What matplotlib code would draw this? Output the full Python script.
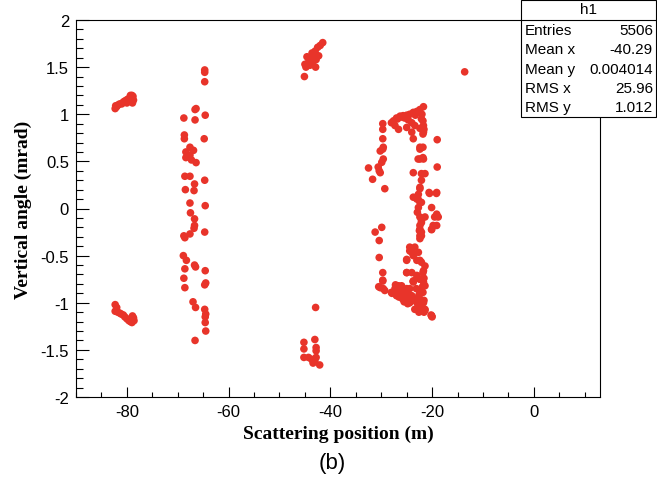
import matplotlib
matplotlib.use("Agg")
import matplotlib.pyplot as plt
from matplotlib.ticker import MultipleLocator, FuncFormatter
from matplotlib.patches import Rectangle
from matplotlib.lines import Line2D

plt.rcParams['font.family'] = ['Liberation Sans', 'DejaVu Sans']
plt.rcParams['axes.unicode_minus'] = False

# cluster near -80 m, positive angle
a_x = [-82.3, -82.2, -82.0, -81.7, -81.4, -81.0, -80.7, -80.4, -80.1,
       -79.8, -79.5, -79.2, -79.0, -78.8, -78.7, -79.3, -80.0, -78.9]
a_y = [1.06, 1.09, 1.08, 1.10, 1.11, 1.11, 1.13, 1.14, 1.15,
       1.16, 1.17, 1.18, 1.20, 1.19, 1.15, 1.20, 1.12, 1.12]

# cluster near -80 m, negative angle
b_x = [-82.3, -82.3, -82.0, -81.8, -81.4, -81.1, -80.7, -80.4,
       -80.0, -79.6, -79.3, -78.9, -78.6, -78.7, -79.0]
b_y = [-1.02, -1.09, -1.05, -1.10, -1.11, -1.12, -1.13, -1.15,
       -1.17, -1.19, -1.20, -1.14, -1.19, -1.16, -1.21]

# column around -67 m
c_x = [-64.7, -64.7, -64.7, -66.6, -66.4, -68.8, -66.6, -64.6,
       -68.7, -68.7, -64.8, -67.6, -66.9, -68.4, -67.6, -68.4,
       -67.3, -66.4, -68.6, -67.6, -64.7, -66.7, -68.5, -66.8,
       -67.6, -64.6, -67.5, -66.7, -66.7, -66.8, -64.7, -68.8,
       -67.6, -68.6, -68.9, -68.3, -68.6, -66.7, -66.5, -64.6,
       -68.8, -68.6, -64.7, -64.5, -67.0, -66.5, -64.7, -64.5,
       -64.6, -64.6, -64.5, -66.6]
c_y = [1.47, 1.445, 1.345, 1.05, 1.06, 0.96, 0.94, 0.99,
       0.78, 0.74, 0.74, 0.65, 0.617, 0.60, 0.566, 0.54,
       0.515, 0.487, 0.342, 0.342, 0.30, 0.26, 0.20, 0.19,
       0.058, 0.03, -0.046, -0.11, -0.18, -0.21, -0.25, -0.29,
       -0.27, -0.31, -0.50, -0.55, -0.64, -0.60, -0.62, -0.66,
       -0.74, -0.84, -0.81, -0.79, -0.99, -1.05, -1.07, -1.12,
       -1.15, -1.21, -1.30, -1.40]

# cluster near -43 m, positive angle
d_x = [-45.1, -45.0, -44.8, -44.6, -44.2, -43.8, -43.5, -43.2, -43.0,
       -42.8, -42.5, -42.3, -41.5, -42.0, -43.6, -44.0, -42.9]
d_y = [1.40, 1.53, 1.50, 1.61, 1.57, 1.60, 1.55, 1.63, 1.67,
       1.58, 1.71, 1.62, 1.76, 1.73, 1.65, 1.52, 1.50]

# cluster near -43 m, negative angle
e_x = [-42.9, -45.2, -45.2, -45.2, -44.3, -43.05, -42.8,
       -42.8, -43.7, -43.4, -42.8, -43.05, -42.1]
e_y = [-1.05, -1.42, -1.49, -1.58, -1.58, -1.39, -1.475,
       -1.51, -1.60, -1.64, -1.58, -1.62, -1.66]

# single point
f_x = [-13.6]
f_y = [1.45]

# big cluster between -33 and -19 m
g_x = [-21.7, -22.4, -23.0, -23.7, -24.4, -25.0, -25.7, -26.3, -27.0, -27.6,
       -28.0, -27.3, -26.6, -26.0, -22.1, -21.7, -22.4, -23.4, -24.0, -25.0,
       -21.7, -26.8, -25.4, -24.7, -23.3, -22.0,
       -29.7, -29.7, -29.7, -29.7, -30.2, -29.6, -29.9, -30.6, -30.2, -32.5,
       -31.7, -29.3, -30.4, -29.6,
       -24.0, -23.7, -22.4, -22.4, -21.7, -23.7, -22.1, -22.1, -22.4, -22.7,
       -23.7, -23.0, -22.4, -22.7, -22.9, -22.4, -22.1, -22.4, -22.5, -22.4,
       -22.1, -20.6, -19.1, -20.1, -19.1, -18.8, -19.1, -20.1, -19.0, -19.0,
       -31.2, -29.9, -30.4, -30.4, -29.7, -29.7, -30.2, -29.6,
       -24.4, -24.0, -25.0, -22.7, -23.0, -22.1, -21.7, -24.0, -25.0, -23.0,
       -22.4, -23.7, -21.7, -28.0, -27.3, -26.6, -26.3, -27.0, -25.7, -25.3,
       -24.4, -23.4, -22.4, -22.1, -21.4, -20.1, -21.7, -23.4, -25.0, -24.4,
       -24.0, -22.4, -26.0, -24.8, -23.9, -22.8,
       -21.8, -21.6, -21.8, -21.8, -22.4, -21.8, -22.75, -21.4, -22.4, -22.75,
       -22.1, -20.5, -19.15, -19.5, -19.8, -20.1, -21.4, -22.1, -22.4, -22.1,
       -22.4, -23.4, -24.4, -23.7, -25.0, -22.4, -21.4, -21.8, -25.0, -23.7,
       -22.4, -21.4, -23.1, -25.0, -21.8, -24.4, -23.4, -22.4, -21.4, -20.1,
       -25.0, -25.7, -26.0,
       -30.5, -29.3, -29.7, -27.2, -26.9, -26.2, -25.8, -24.8, -24.1, -23.0,
       -22.6, -21.9, -21.6, -21.9, -21.6, -20.2, -20.0, -23.7, -23.0, -21.6,
       -27.9, -26.5, -25.5, -22.3, -22.6]
g_y = [1.08, 1.05, 1.03, 1.02, 1.00, 0.99, 0.985, 0.98, 0.96, 0.93,
       0.91, 0.88, 0.84, 0.97, 0.95, 0.88, 0.85, 0.88, 0.91, 0.86,
       0.81, 0.95, 0.96, 0.94, 0.99, 1.00,
       0.90, 0.84, 0.74, 0.63, 0.61, 0.65, 0.49, 0.44, 0.38, 0.43,
       0.31, 0.21, 0.40, 0.525,
       0.81, 0.74, 0.65, 0.525, 0.525, 0.38, 0.37, 0.30, 0.21, 0.15,
       0.12, 0.10, 0.065, 0.01, -0.04, -0.09, -0.13, -0.18, -0.235, -0.29,
       -0.25, 0.17, 0.17, 0.01, -0.06, -0.09, -0.18, -0.22, 0.73, 0.44,
       -0.25, -0.20, -0.34, -0.52, -0.68, -0.77, -0.84, -0.85,
       -0.41, -0.465, -0.54, -0.465, -0.55, -0.57, -0.66, -0.68, -0.68, -0.71,
       -0.75, -0.77, -0.78, -0.89, -0.85, -0.82, -0.89, -0.925, -0.94, -0.98,
       -1.00, -0.98, -0.96, -1.05, -1.08, -1.14, -1.00, -1.07, -0.89, -0.85,
       -0.925, -0.89, -0.91, -0.95, -0.97, -1.02,
       0.93, 0.84, 0.79, 0.65, 0.63, 0.54, 0.525, 0.37, 0.225, 0.10,
       0.065, 0.16, 0.16, -0.09, -0.18, -0.225, -0.09, -0.15, -0.22, -0.29,
       -0.32, -0.41, -0.45, -0.50, -0.55, -0.55, -0.61, -0.68, -0.68, -0.77,
       -0.75, -0.82, -0.85, -0.85, -0.89, -0.925, -0.96, -1.00, -1.07, -1.14,
       -0.98, -0.89, -0.82,
       -0.83, -0.87, -0.76, -0.81, -0.92, -0.89, -0.96, -1.01, -0.975, -0.99,
       -0.92, -0.83, -0.975, -1.08, -1.10, -1.13, -1.15, -0.78, -0.74, -0.74,
       -0.90, -0.94, -0.99, -1.05, -1.10]

stat_names = ["Entries", "Mean x", "Mean y", "RMS x", "RMS y"]
stat_values = ["5506", "-40.29", "0.004014", "25.96", "1.012"]

xs = a_x + b_x + c_x + d_x + e_x + f_x + g_x
ys = a_y + b_y + c_y + d_y + e_y + f_y + g_y

fig = plt.figure(figsize=(6.57, 4.81), dpi=100)
ax = fig.add_axes([76/657, 1 - 398/481, (600 - 76)/657, (398 - 21)/481])

ax.scatter(xs, ys, s=30, color='#e8342a', edgecolors='none')

ax.set_xlim(-90, 13)
ax.set_ylim(-2, 2)
ax.xaxis.set_major_locator(MultipleLocator(20))
ax.xaxis.set_minor_locator(MultipleLocator(5))
ax.yaxis.set_major_locator(MultipleLocator(0.5))
ax.yaxis.set_minor_locator(MultipleLocator(0.1))
fmt = FuncFormatter(lambda v, p: '%g' % (0 if abs(v) < 1e-9 else v))
ax.xaxis.set_major_formatter(fmt)
ax.yaxis.set_major_formatter(fmt)

ax.tick_params(axis='x', which='major', direction='in', length=7, width=0.8,
               labelsize=12, pad=5)
ax.tick_params(axis='x', which='minor', direction='in', length=3.5, width=0.8)
ax.tick_params(axis='y', which='major', direction='in', length=9.5, width=0.8,
               labelsize=12, pad=5)
ax.tick_params(axis='y', which='minor', direction='in', length=4.8, width=0.8)
for sp in ax.spines.values():
    sp.set_linewidth(0.8)

ax.set_xlabel("Scattering position (m)", fontfamily='Liberation Serif',
              fontweight='bold', fontsize=14, labelpad=4)
ax.set_ylabel("Vertical angle (mrad)", fontfamily='Liberation Serif',
              fontweight='bold', fontsize=14, labelpad=6)

fig.text(332/657, 1 - 464/481, "(b)", ha='center', va='center', fontsize=16)

# stats box
bx0, bx1 = 521/657, 656/657
by0, by1 = 1 - 118/481, 1 - 1/481
fig.patches.append(Rectangle((bx0, by0), bx1 - bx0, by1 - by0,
                             transform=fig.transFigure, facecolor='white',
                             edgecolor='black', linewidth=0.8, zorder=5))
sep = 1 - 21/481
fig.lines.append(Line2D([bx0, bx1], [sep, sep], transform=fig.transFigure,
                        color='black', linewidth=0.8, zorder=6))
fig.text((bx0 + bx1)/2, 1 - 10.5/481, "h1", ha='center', va='center',
         fontsize=11, zorder=7)
for i, (n, v) in enumerate(zip(stat_names, stat_values)):
    yy = 1 - (31 + i*19.3)/481
    fig.text(525/657, yy, n, ha='left', va='center', fontsize=11, zorder=7)
    fig.text(653/657, yy, v, ha='right', va='center', fontsize=11, zorder=7)

fig.savefig("out.png", dpi=100)
